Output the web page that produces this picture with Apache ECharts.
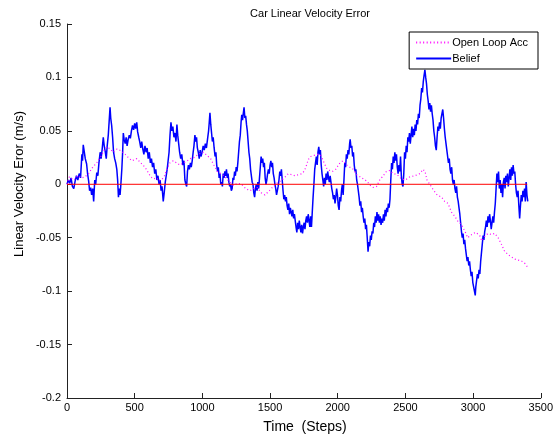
<!DOCTYPE html>
<html>
<head>
<meta charset="utf-8">
<script src="https://cdn.jsdelivr.net/npm/echarts@6/dist/echarts.min.js"></script>
<style>
  html, body { margin: 0; padding: 0; background: #fff; }
  #chart { width: 556px; height: 441px; }
</style>
</head>
<body>
<div id="chart"></div>
<script>
// axis ticks
const xTicks = [0, 500, 1000, 1500, 2000, 2500, 3000, 3500];
const yTicks = [-0.2, -0.15, -0.1, -0.05, 0, 0.05, 0.1, 0.15];

const seriesNames = ['Open Loop Acc', 'Belief'];

// belief error, [step, value]
const belief = [
  [0, 0.000], [10, 0.004], [20, 0.001], [30, 0.006], [40, -0.002], [50, -0.004], [60, 0.003], [70, 0.008],
  [80, 0.004], [90, 0.010], [100, 0.006], [110, 0.028], [115, 0.022], [120, 0.037], [128, 0.030], [135, 0.024],
  [145, 0.019], [152, 0.010], [160, 0.003], [167, -0.006], [175, -0.003], [182, -0.010], [190, -0.004], [197, -0.016],
  [205, 0.004], [212, 0.000], [220, 0.011], [228, 0.008], [236, 0.020], [245, 0.030], [252, 0.024], [260, 0.033],
  [268, 0.044], [275, 0.036], [283, 0.030], [290, 0.024], [297, 0.036], [305, 0.046], [312, 0.060], [318, 0.072],
  [323, 0.062], [330, 0.055], [337, 0.044], [344, 0.030], [352, 0.024], [360, 0.020], [368, 0.014], [374, 0.004],
  [380, -0.012], [386, -0.004], [392, -0.010], [398, 0.000], [405, 0.014], [411, 0.030], [416, 0.048], [422, 0.042],
  [430, 0.038], [437, 0.044], [444, 0.036], [452, 0.042], [460, 0.046], [468, 0.043], [476, 0.050], [484, 0.055],
  [492, 0.051], [500, 0.057], [507, 0.052], [515, 0.058], [522, 0.049], [530, 0.044], [537, 0.040], [545, 0.034],
  [552, 0.040], [560, 0.033], [568, 0.028], [576, 0.036], [584, 0.030], [592, 0.034], [600, 0.024], [608, 0.030],
  [616, 0.020], [624, 0.024], [632, 0.016], [640, 0.020], [648, 0.010], [656, 0.014], [664, 0.004], [672, 0.008],
  [680, 0.000], [688, 0.004], [695, -0.006], [702, -0.002], [711, -0.016], [718, -0.008], [726, 0.002], [733, 0.008],
  [740, 0.014], [747, 0.022], [754, 0.030], [761, 0.046], [768, 0.058], [775, 0.050], [782, 0.054], [790, 0.044],
  [798, 0.048], [805, 0.040], [812, 0.056], [818, 0.046], [825, 0.038], [832, 0.030], [840, 0.024], [848, 0.028],
  [856, 0.018], [864, 0.022], [871, 0.004], [878, 0.000], [884, -0.002], [890, 0.012], [897, 0.018], [904, 0.014],
  [912, 0.020], [918, 0.016], [925, 0.022], [932, 0.030], [938, 0.036], [945, 0.046], [951, 0.040], [957, 0.044],
  [963, 0.034], [970, 0.030], [977, 0.024], [984, 0.032], [990, 0.026], [998, 0.030], [1006, 0.036], [1014, 0.032],
  [1022, 0.038], [1030, 0.034], [1038, 0.042], [1046, 0.050], [1051, 0.058], [1056, 0.067], [1062, 0.056], [1068, 0.048],
  [1074, 0.040], [1080, 0.044], [1087, 0.034], [1094, 0.026], [1100, 0.030], [1106, 0.018], [1112, 0.012], [1118, 0.016],
  [1124, 0.006], [1130, 0.010], [1136, 0.000], [1142, 0.002], [1148, -0.002], [1154, 0.010], [1160, 0.006], [1166, 0.012],
  [1172, 0.008], [1178, 0.014], [1184, 0.006], [1190, 0.010], [1196, 0.002], [1202, -0.002], [1208, 0.000], [1214, -0.006],
  [1220, -0.004], [1226, 0.006], [1232, 0.004], [1238, 0.012], [1244, 0.008], [1250, 0.016], [1256, 0.012], [1262, 0.020],
  [1268, 0.030], [1274, 0.040], [1280, 0.046], [1286, 0.058], [1291, 0.065], [1297, 0.060], [1302, 0.066], [1308, 0.072],
  [1314, 0.062], [1320, 0.064], [1326, 0.056], [1332, 0.050], [1338, 0.040], [1344, 0.030], [1350, 0.024], [1356, 0.014],
  [1362, 0.008], [1368, 0.002], [1374, 0.000], [1380, -0.008], [1386, -0.012], [1392, -0.004], [1398, 0.000], [1404, -0.006],
  [1410, 0.002], [1416, -0.004], [1422, 0.006], [1428, 0.016], [1434, 0.026], [1440, 0.020], [1446, 0.024], [1452, 0.016],
  [1458, 0.020], [1464, 0.006], [1470, 0.000], [1476, 0.004], [1482, 0.010], [1488, 0.014], [1494, 0.010], [1500, 0.018],
  [1506, 0.022], [1512, 0.016], [1518, 0.020], [1524, 0.010], [1530, 0.006], [1536, 0.000], [1542, -0.004], [1548, -0.010],
  [1554, -0.006], [1560, -0.002], [1566, 0.004], [1572, 0.012], [1578, 0.008], [1584, 0.014], [1590, 0.004], [1596, -0.006],
  [1602, -0.014], [1608, -0.010], [1614, -0.016], [1620, -0.012], [1626, -0.020], [1632, -0.024], [1638, -0.018], [1644, -0.028],
  [1650, -0.022], [1656, -0.026], [1662, -0.030], [1668, -0.024], [1674, -0.032], [1680, -0.028], [1686, -0.034], [1692, -0.040],
  [1698, -0.045], [1704, -0.036], [1710, -0.042], [1716, -0.034], [1722, -0.040], [1728, -0.045], [1734, -0.038], [1740, -0.046],
  [1746, -0.040], [1752, -0.036], [1758, -0.042], [1764, -0.034], [1770, -0.030], [1776, -0.036], [1782, -0.028], [1788, -0.034],
  [1794, -0.040], [1800, -0.030], [1806, -0.040], [1812, -0.026], [1818, -0.012], [1824, 0.000], [1830, 0.014], [1836, 0.020],
  [1842, 0.026], [1848, 0.018], [1854, 0.030], [1860, 0.035], [1866, 0.028], [1872, 0.032], [1878, 0.018], [1884, 0.010],
  [1890, 0.004], [1896, -0.002], [1902, 0.006], [1908, 0.000], [1914, 0.010], [1920, 0.004], [1926, 0.012], [1932, 0.006],
  [1938, 0.002], [1944, 0.008], [1950, 0.002], [1956, -0.004], [1962, -0.008], [1968, -0.014], [1974, -0.010], [1980, -0.018],
  [1986, -0.012], [1992, -0.004], [1998, -0.010], [2004, -0.020], [2010, -0.024], [2016, -0.012], [2022, -0.016], [2028, -0.006],
  [2034, 0.000], [2040, -0.010], [2046, 0.004], [2052, 0.020], [2058, 0.016], [2064, 0.028], [2070, 0.024], [2076, 0.032],
  [2082, 0.028], [2088, 0.038], [2092, 0.042], [2098, 0.034], [2104, 0.036], [2110, 0.026], [2116, 0.030], [2122, 0.018],
  [2128, 0.012], [2134, 0.014], [2140, 0.004], [2146, 0.000], [2152, -0.006], [2158, -0.012], [2164, -0.020], [2170, -0.016],
  [2176, -0.026], [2182, -0.022], [2188, -0.030], [2194, -0.036], [2200, -0.032], [2206, -0.042], [2212, -0.038], [2218, -0.050],
  [2224, -0.063], [2230, -0.054], [2236, -0.058], [2242, -0.048], [2248, -0.052], [2254, -0.044], [2260, -0.046], [2266, -0.036],
  [2272, -0.040], [2278, -0.030], [2284, -0.036], [2290, -0.026], [2296, -0.034], [2302, -0.028], [2308, -0.036], [2314, -0.030],
  [2320, -0.038], [2326, -0.032], [2332, -0.036], [2338, -0.028], [2344, -0.034], [2350, -0.024], [2356, -0.030], [2362, -0.022],
  [2368, -0.026], [2374, -0.018], [2380, -0.022], [2386, -0.014], [2392, 0.004], [2398, 0.020], [2404, 0.014], [2410, 0.026],
  [2416, 0.020], [2422, 0.030], [2428, 0.022], [2434, 0.028], [2440, 0.016], [2446, 0.010], [2452, 0.018], [2458, 0.012],
  [2464, 0.026], [2470, 0.008], [2476, 0.000], [2482, -0.002], [2488, 0.010], [2494, 0.030], [2500, 0.024], [2506, 0.036],
  [2512, 0.030], [2518, 0.044], [2524, 0.040], [2530, 0.048], [2536, 0.038], [2542, 0.046], [2548, 0.054], [2554, 0.044],
  [2560, 0.052], [2566, 0.046], [2572, 0.056], [2578, 0.050], [2584, 0.060], [2590, 0.056], [2596, 0.066], [2602, 0.062],
  [2608, 0.074], [2614, 0.080], [2620, 0.090], [2626, 0.086], [2632, 0.096], [2638, 0.102], [2644, 0.107], [2650, 0.100],
  [2656, 0.094], [2662, 0.084], [2668, 0.078], [2674, 0.070], [2680, 0.076], [2686, 0.068], [2692, 0.074], [2698, 0.066],
  [2704, 0.060], [2710, 0.050], [2716, 0.044], [2722, 0.036], [2728, 0.032], [2734, 0.044], [2740, 0.054], [2746, 0.050],
  [2752, 0.058], [2758, 0.052], [2764, 0.062], [2770, 0.066], [2776, 0.070], [2782, 0.062], [2788, 0.052], [2794, 0.044],
  [2800, 0.038], [2806, 0.032], [2812, 0.026], [2818, 0.020], [2824, 0.024], [2830, 0.014], [2836, 0.010], [2842, 0.016],
  [2848, 0.004], [2854, 0.000], [2860, 0.004], [2866, -0.004], [2872, -0.008], [2878, -0.002], [2884, -0.012], [2890, -0.016],
  [2896, -0.022], [2902, -0.028], [2908, -0.036], [2914, -0.044], [2920, -0.050], [2926, -0.046], [2932, -0.056], [2938, -0.052],
  [2944, -0.060], [2950, -0.066], [2956, -0.072], [2962, -0.068], [2968, -0.076], [2974, -0.072], [2980, -0.080], [2986, -0.086],
  [2992, -0.082], [2998, -0.092], [3004, -0.096], [3010, -0.100], [3016, -0.104], [3020, -0.096], [3026, -0.090], [3032, -0.084],
  [3038, -0.088], [3044, -0.080], [3050, -0.084], [3056, -0.072], [3062, -0.064], [3068, -0.056], [3074, -0.048], [3080, -0.052],
  [3086, -0.044], [3092, -0.040], [3098, -0.034], [3104, -0.040], [3110, -0.030], [3116, -0.036], [3122, -0.028], [3128, -0.034],
  [3134, -0.042], [3140, -0.036], [3146, -0.030], [3152, -0.036], [3158, -0.026], [3164, -0.018], [3170, -0.004], [3176, 0.010],
  [3182, 0.002], [3188, 0.012], [3194, -0.004], [3200, 0.004], [3206, -0.008], [3212, 0.000], [3218, -0.012], [3224, 0.002],
  [3230, 0.006], [3236, -0.004], [3242, 0.008], [3248, 0.002], [3254, 0.010], [3260, -0.002], [3266, 0.006], [3272, 0.014],
  [3278, 0.004], [3284, 0.016], [3290, 0.008], [3296, 0.018], [3302, 0.010], [3308, 0.012], [3314, 0.000], [3320, -0.008],
  [3326, -0.012], [3332, -0.006], [3338, -0.020], [3344, -0.032], [3350, -0.020], [3356, -0.010], [3362, -0.016], [3368, -0.006],
  [3374, -0.012], [3380, -0.004], [3386, -0.016], [3392, 0.002], [3398, -0.010], [3404, -0.016]
];

// open loop acceleration estimate
const openLoop = [
  [0, 0.000], [17, 0.007], [50, 0.004], [80, 0.008], [110, 0.006], [133, 0.007], [160, 0.010], [190, 0.016],
  [219, 0.020], [250, 0.026], [275, 0.032], [293, 0.035], [320, 0.033], [342, 0.030], [370, 0.033], [404, 0.031],
  [430, 0.028], [453, 0.025], [480, 0.022], [515, 0.024], [545, 0.020], [576, 0.016], [600, 0.011], [618, 0.007],
  [640, 0.005], [662, 0.006], [680, 0.003], [699, 0.004], [720, 0.008], [741, 0.015], [760, 0.020], [785, 0.022],
  [810, 0.020], [834, 0.018], [860, 0.020], [889, 0.022], [910, 0.024], [938, 0.025], [970, 0.028], [1007, 0.030],
  [1035, 0.027], [1061, 0.024], [1085, 0.018], [1110, 0.012], [1135, 0.010], [1160, 0.008], [1195, 0.003], [1228, -0.001],
  [1260, 0.001], [1290, 0.000], [1320, -0.004], [1351, -0.006], [1380, -0.004], [1406, -0.003], [1435, -0.008], [1462, -0.010],
  [1495, -0.006], [1524, -0.002], [1550, 0.001], [1578, 0.003], [1605, 0.006], [1635, 0.010], [1660, 0.009], [1684, 0.008],
  [1710, 0.009], [1738, 0.010], [1755, 0.013], [1770, 0.018], [1782, 0.023], [1800, 0.026], [1825, 0.027], [1850, 0.028],
  [1875, 0.027], [1900, 0.020], [1918, 0.015], [1940, 0.013], [1960, 0.012], [1985, 0.014], [2016, 0.020], [2040, 0.022],
  [2065, 0.018], [2090, 0.016], [2115, 0.014], [2140, 0.009], [2165, 0.007], [2190, 0.005], [2215, 0.003], [2240, -0.001],
  [2262, -0.003], [2287, -0.002], [2310, 0.004], [2336, 0.008], [2360, 0.012], [2385, 0.013], [2410, 0.010], [2440, 0.009],
  [2470, 0.005], [2500, 0.004], [2533, 0.007], [2570, 0.008], [2607, 0.010], [2630, 0.014], [2645, 0.012], [2660, 0.004],
  [2680, 0.000], [2705, -0.005], [2735, -0.010], [2767, -0.012], [2790, -0.016], [2815, -0.018], [2840, -0.026], [2865, -0.030],
  [2889, -0.035], [2915, -0.038], [2940, -0.044], [2960, -0.050], [2980, -0.048], [3000, -0.046], [3020, -0.045], [3049, -0.048],
  [3065, -0.053], [3086, -0.049], [3110, -0.046], [3136, -0.047], [3160, -0.046], [3185, -0.050], [3209, -0.056], [3230, -0.062],
  [3259, -0.066], [3285, -0.068], [3308, -0.070], [3335, -0.071], [3360, -0.072], [3382, -0.074], [3400, -0.077]
];

// zero reference line
const zeroLine = [[0, 0], [3400, 0]];

const font = "'Liberation Sans', Arial, sans-serif";

let chart = echarts.init(document.getElementById('chart'), null, { renderer: 'canvas' });

let option = {
  animation: false,
  backgroundColor: '#fff',
  textStyle: { fontFamily: font },
  title: {
    text: 'Car Linear Velocity Error',
    left: 305,
    top: 3,
    textAlign: 'center',
    textStyle: { fontSize: 11, fontWeight: 'normal', color: '#000', fontFamily: font }
  },
  legend: {
    data: seriesNames,
    orient: 'vertical',
    right: 18,
    top: 32,
    backgroundColor: '#fff',
    borderColor: '#000',
    borderWidth: 1,
    borderRadius: 0,
    padding: [5, 10, 5, 6],
    itemGap: 5,
    itemWidth: 35,
    itemHeight: 10,
    // hide the marker dot, keep the line sample
    itemStyle: { opacity: 0 },
    textStyle: { fontSize: 11, color: '#000', fontFamily: font, padding: [0, 0, 0, -4] }
  },
  grid: { left: 67, right: 14, top: 24, bottom: 43, containLabel: false },
  xAxis: {
    type: 'value',
    min: xTicks[0],
    max: xTicks[xTicks.length - 1],
    interval: 500,
    axisLine: { show: true, onZero: false, lineStyle: { color: '#222', width: 1 } },
    axisTick: { show: true, inside: true, length: 5, lineStyle: { color: '#222' } },
    axisLabel: { fontSize: 11, color: '#000', margin: 4, fontFamily: font, formatter: v => String(v) },
    splitLine: { show: false }
  },
  yAxis: {
    type: 'value',
    min: yTicks[0],
    max: yTicks[yTicks.length - 1],
    interval: 0.05,
    axisLine: { show: true, onZero: false, lineStyle: { color: '#222', width: 1 } },
    axisTick: { show: true, inside: true, length: 5, lineStyle: { color: '#222' } },
    axisLabel: {
      fontSize: 11, color: '#000', margin: 6, fontFamily: font,
      formatter: v => String(+v.toFixed(2))
    },
    splitLine: { show: false }
  },
  graphic: [{
    type: 'text',
    x: 19,
    y: 184,
    rotation: Math.PI / 2,
    style: {
      text: 'Linear Velocity Eror (m/s)',
      fontSize: 13,
      fontFamily: font,
      fill: '#000',
      align: 'center',
      verticalAlign: 'middle'
    }
  }, {
    type: 'text',
    x: 305,
    y: 427,
    style: {
      text: 'Time  (Steps)',
      fontSize: 14,
      fontFamily: font,
      fill: '#000',
      align: 'center',
      verticalAlign: 'middle'
    }
  }],
  series: [
    {
      name: 'Belief',
      type: 'line',
      data: belief,
      symbol: 'none',
      showSymbol: false,
      z: 2,
      lineStyle: { color: '#0000ff', width: 1.5 },
      itemStyle: { color: '#0000ff' }
    },
    {
      name: 'Open Loop Acc',
      type: 'line',
      data: openLoop,
      symbol: 'none',
      showSymbol: false,
      z: 3,
      lineStyle: { color: '#ff00ff', width: 1.2, type: [1, 2.5] },
      itemStyle: { color: '#ff00ff' }
    },
    {
      name: 'zero',
      type: 'line',
      data: zeroLine,
      symbol: 'none',
      showSymbol: false,
      z: 4,
      lineStyle: { color: '#ff0000', width: 1 },
      itemStyle: { color: '#ff0000' }
    }
  ]
};

chart.setOption(option);
</script>
</body>
</html>
